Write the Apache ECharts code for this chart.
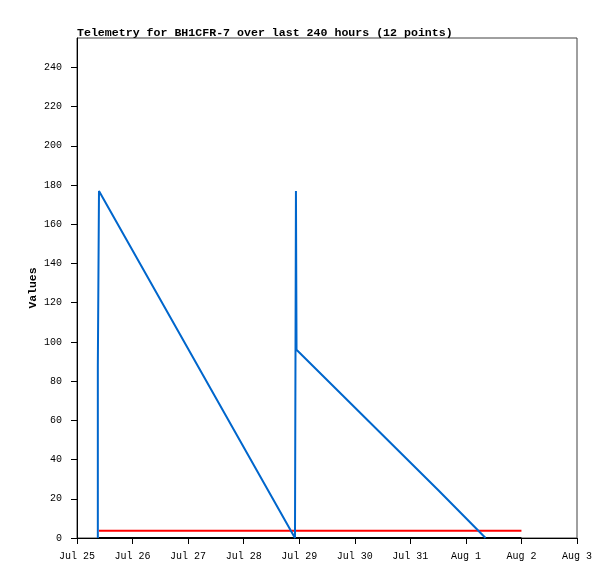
<!DOCTYPE html>
<html>
<head>
<meta charset="utf-8">
<title>Telemetry BH1CFR-7</title>
<script src="https://cdn.jsdelivr.net/npm/echarts@6/dist/echarts.min.js"></script>
<style>
  html, body { margin: 0; padding: 0; background: #fff; }
  #chart { width: 615px; height: 579px; }
</style>
</head>
<body>
<div id="chart"></div>
<script>
/* Telemetry chart */

const TITLE = "Telemetry for BH1CFR-7 over last 240 hours (12 points)";

// blue series (times in UTC)
const blueTimes = [
  "2025-07-25 09:00", "2025-07-25 09:00", "2025-07-25 09:30",
  "2025-07-28 22:10", "2025-07-28 22:35", "2025-07-28 22:50",
  "2025-07-29 19:20", "2025-07-31 12:00", "2025-08-01 08:30",
];
const blueValues = [0, 88, 177, 0, 177, 96, 72, 24.5, 0];

// red and black flat series
const flatTimes = ["2025-07-25 09:30", "2025-08-02 00:00"];
const redValues = [3.7, 3.7];
const blackValues = [0, 0];

// axes
const xStart = "2025-07-25 00:00";
const xEnd = "2025-08-03 00:00";
const yTicks = [0, 20, 40, 60, 80, 100, 120, 140, 160, 180, 200, 220, 240];
const yMax = 255;
const MONTHS = ["Jan","Feb","Mar","Apr","May","Jun","Jul","Aug","Sep","Oct","Nov","Dec"];

const DAY = 86400000;
const FONT = "'Liberation Mono', 'DejaVu Sans Mono', monospace";

function toMs(s) {
  const [d, t] = s.split(" ");
  const [y, m, dd] = d.split("-").map(Number);
  const [hh, mm] = t.split(":").map(Number);
  return Date.UTC(y, m - 1, dd, hh, mm);
}

function pairs(times, values) {
  return times.map((t, i) => [toMs(t), values[i]]);
}

function lineSeries(name, data, color) {
  return {
    name, type: "line", data,
    showSymbol: false, animation: false,
    lineStyle: { width: 2, color },
    itemStyle: { color },
  };
}

const chart = echarts.init(document.getElementById("chart"), null, { renderer: "canvas" });

chart.setOption({
  backgroundColor: "#fff",
  animation: false,
  title: {
    text: TITLE, left: 77, top: 27, padding: 0,
    textStyle: { fontFamily: FONT, fontSize: 11.6, fontWeight: "bold", color: "#000" },
  },
  grid: { left: 77, top: 38, width: 500, height: 500, show: true, borderColor: "#404040", borderWidth: 1 },
  xAxis: {
    type: "value",
    min: toMs(xStart), max: toMs(xEnd), interval: DAY,
    axisLine: { onZero: false, lineStyle: { color: "#000", width: 1 } },
    axisTick: { show: true, inside: false, length: 6, lineStyle: { color: "#000" } },
    splitLine: { show: false },
    axisLabel: {
      margin: 13, color: "#000", fontFamily: FONT, fontSize: 10,
      showMinLabel: true, showMaxLabel: true,
      formatter: v => { const d = new Date(v); return MONTHS[d.getUTCMonth()] + " " + d.getUTCDate(); },
    },
  },
  yAxis: {
    type: "value",
    min: 0, max: yMax,
    name: "Values", nameLocation: "middle", nameGap: 38, nameMoveOverlap: false,
    nameTextStyle: { fontFamily: FONT, fontSize: 11.4, fontWeight: "bold", color: "#000" },
    axisLine: { show: true, lineStyle: { color: "#000", width: 1 } },
    axisTick: { show: true, length: 6, lineStyle: { color: "#000" }, customValues: yTicks },
    splitLine: { show: false },
    axisLabel: { margin: 15, color: "#000", fontFamily: FONT, fontSize: 10, customValues: yTicks },
  },
  series: [
    lineSeries("zero", pairs(flatTimes, blackValues), "#000"),
    lineSeries("limit", pairs(flatTimes, redValues), "#ff0000"),
    lineSeries("telemetry", pairs(blueTimes, blueValues), "#0066cc"),
  ],
});
</script>
</body>
</html>
